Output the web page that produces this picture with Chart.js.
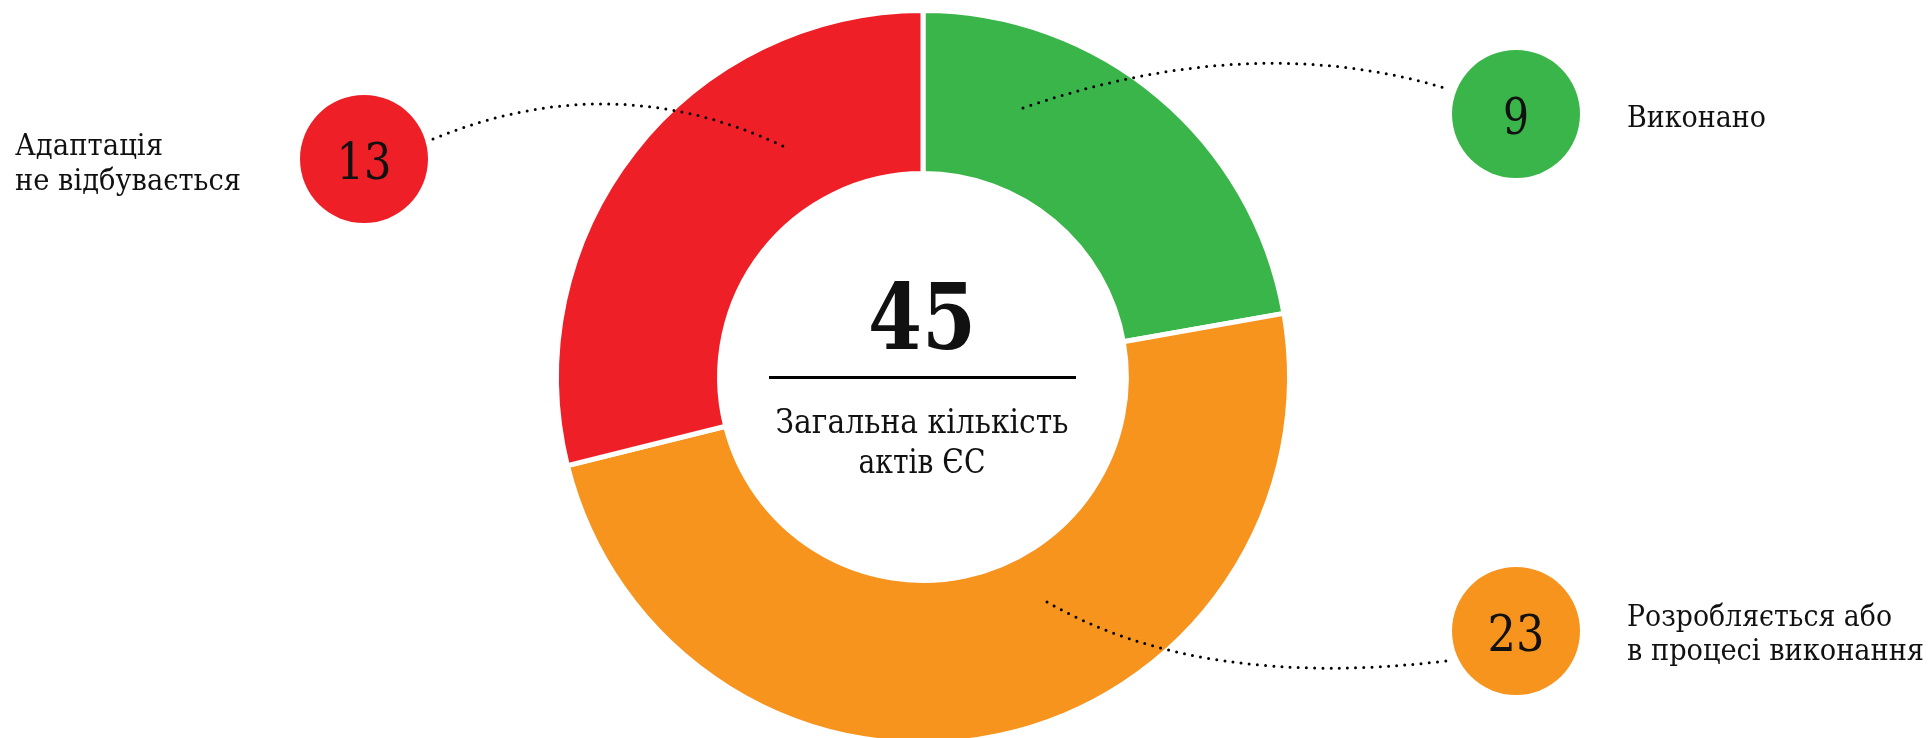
<!DOCTYPE html>
<html lang="uk">
<head>
<meta charset="utf-8">
<title>Загальна кількість актів ЄС</title>
<script src="https://cdn.jsdelivr.net/npm/chart.js@4.4.1/dist/chart.umd.min.js"></script>
<style>
  html, body { margin: 0; padding: 0; background: #ffffff; overflow: hidden; width: 1930px; height: 738px; }
  #wrap { position: absolute; left: 0; top: 0; width: 1930px; height: 760px; }
</style>
</head>
<body>
<div id="wrap"><canvas id="c"></canvas></div>
<script>
// ---- data ----
const categories   = ['Виконано', 'Розробляється або в процесі виконання', 'Адаптація не відбувається'];
const labelLines   = [['Виконано'], ['Розробляється або', 'в процесі виконання'], ['Адаптація', 'не відбувається']];
const countLabels  = ['9', '23', '13'];      // numbers printed in the circles
const sliceSizes   = [10, 22, 13];           // arc sizes as drawn in the picture
const sliceColors  = ['#3AB54A', '#F7941E', '#EE1F26'];
const totalLabel   = '45';
const centerLines  = ['Загальна кількість', 'актів ЄС'];

// ---- layout of the callouts (annotation geometry) ----
const callouts = [
  { circle: [1516, 114], textX: 1627, align: 'left', baselines: [127], widths: [139],
    curve: [[1023, 108], [1250, 30], [1445, 88]], numW: 26 },
  { circle: [1516, 631], textX: 1627, align: 'left', baselines: [626, 660], widths: [265, 297],
    curve: [[1047, 602], [1200, 690], [1446, 661]], numW: 57 },
  { circle: [364, 159], textX: 15, align: 'left', baselines: [155, 190], widths: [148, 226],
    curve: [[433, 139], [612, 65.5], [783, 146]], numW: 55 }
];

const SERIF = '"DejaVu Serif", "Liberation Serif", serif';
const INK = '#111111';

function fitText(ctx, text, x, y, font, targetW, align) {
  ctx.font = font;
  const w = ctx.measureText(text).width;
  const sx = targetW / w;
  ctx.save();
  ctx.translate(x, y);
  ctx.scale(sx, 1);
  ctx.textAlign = align;
  ctx.textBaseline = 'alphabetic';
  ctx.fillStyle = INK;
  ctx.fillText(text, 0, 0);
  ctx.restore();
}

const calloutPlugin = {
  id: 'callouts',
  afterDraw(chart) {
    const ctx = chart.ctx;
    const meta = chart.getDatasetMeta(0);
    const arc0 = meta.data[0];
    const cx = arc0.x;

    // dotted leader curves
    ctx.save();
    ctx.strokeStyle = '#000';
    ctx.lineWidth = 3;
    ctx.lineCap = 'round';
    ctx.setLineDash([0, 8.2]);
    callouts.forEach(c => {
      const [p0, p1, p2] = c.curve;
      ctx.beginPath();
      ctx.moveTo(p0[0], p0[1]);
      ctx.quadraticCurveTo(p1[0], p1[1], p2[0], p2[1]);
      ctx.stroke();
    });
    ctx.restore();

    // circles with counts + labels
    callouts.forEach((c, i) => {
      ctx.save();
      ctx.fillStyle = sliceColors[i];
      ctx.beginPath();
      ctx.arc(c.circle[0], c.circle[1], 64, 0, Math.PI * 2);
      ctx.fill();
      ctx.restore();
      fitText(ctx, countLabels[i], c.circle[0], c.circle[1] + 20, '51px ' + SERIF, c.numW, 'center');
      labelLines[i].forEach((line, j) => {
        fitText(ctx, line, c.textX, c.baselines[j], '30px ' + SERIF, c.widths[j], c.align);
      });
    });

    // center
    fitText(ctx, totalLabel, cx - 1, 349, 'bold 92px ' + SERIF, 108, 'center');
    ctx.save();
    ctx.strokeStyle = '#000';
    ctx.lineWidth = 3;
    ctx.beginPath();
    ctx.moveTo(769, 377.5);
    ctx.lineTo(1076, 377.5);
    ctx.stroke();
    ctx.restore();
    fitText(ctx, centerLines[0], cx - 1, 433, '33px ' + SERIF, 293, 'center');
    fitText(ctx, centerLines[1], cx - 1, 473, '33px ' + SERIF, 127, 'center');
  }
};

new Chart(document.getElementById('c'), {
  type: 'doughnut',
  data: {
    labels: categories,
    datasets: [{
      data: sliceSizes,
      backgroundColor: sliceColors,
      borderColor: '#ffffff',
      borderWidth: 5,
      hoverOffset: 0
    }]
  },
  options: {
    responsive: true,
    maintainAspectRatio: false,
    animation: false,
    events: [],
    cutout: '55.5%',
    layout: { padding: { top: 8, left: 554, right: 638, bottom: 14 } },
    plugins: { legend: { display: false }, tooltip: { enabled: false } }
  },
  plugins: [calloutPlugin]
});
</script>
</body>
</html>
